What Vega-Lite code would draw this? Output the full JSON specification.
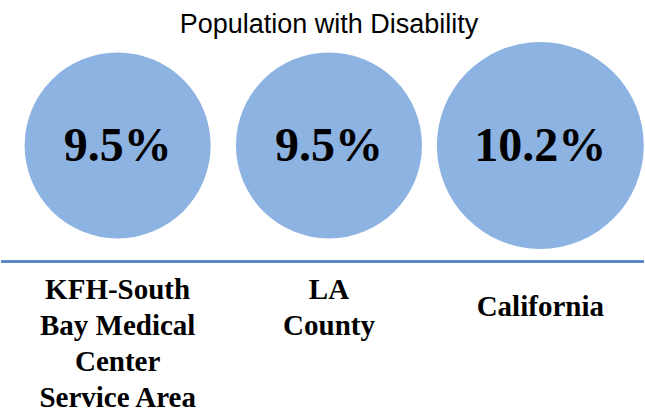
{
  "$schema": "https://vega.github.io/schema/vega-lite/v6.json",
  "width": 645,
  "height": 413,
  "autosize": {"type": "fit", "contains": "padding"},
  "padding": 0,
  "background": "white",
  "config": {"view": {"stroke": null}},
  "data": {"values": [
    {"idx": 1, "area": "KFH-South\nBay Medical\nCenter\nService Area", "value": 9.5, "label": "9.5%"},
    {"idx": 2, "area": "LA\nCounty", "value": 9.5, "label": "9.5%"},
    {"idx": 3, "area": "California", "value": 10.2, "label": "10.2%"}
  ]},
  "resolve": {"scale": {"x": "shared", "y": "shared"}},
  "layer": [
    {
      "mark": {"type": "point", "shape": "circle", "filled": true, "color": "#8db3e2", "opacity": 1},
      "encoding": {
        "x": {"field": "idx", "type": "quantitative", "scale": {"domain": [0.4481, 3.4906], "zero": false, "nice": false}, "axis": null},
        "y": {"datum": 35.3, "type": "quantitative", "scale": {"domain": [0, 100], "reverse": true, "nice": false}, "axis": null},
        "size": {"field": "value", "type": "quantitative", "scale": {"domain": [9.5, 10.2], "range": [34600, 42800]}, "legend": null}
      }
    },
    {
      "mark": {"type": "text", "font": "Liberation Serif", "fontWeight": "bold", "fontSize": 48, "color": "black", "baseline": "middle", "align": "center"},
      "encoding": {
        "x": {"field": "idx", "type": "quantitative", "scale": {"domain": [0.4481, 3.4906], "zero": false, "nice": false}, "axis": null},
        "y": {"datum": 35.6, "type": "quantitative"},
        "text": {"field": "label"}
      }
    },
    {
      "data": {"values": [{"title": "Population with Disability", "pos": 2.0}]},
      "mark": {"type": "text", "font": "Liberation Sans", "fontSize": 27, "color": "black", "baseline": "alphabetic", "align": "center"},
      "encoding": {
        "x": {"field": "pos", "type": "quantitative", "scale": {"domain": [0.4481, 3.4906], "zero": false, "nice": false}, "axis": null},
        "y": {"datum": 8.0, "type": "quantitative"},
        "text": {"field": "title"}
      }
    },
    {
      "mark": {"type": "rule", "color": "#4f81bd", "strokeWidth": 2},
      "encoding": {"y": {"datum": 63.5, "type": "quantitative"}}
    },
    {
      "transform": [{"filter": "datum.idx < 3"}],
      "mark": {"type": "text", "font": "Liberation Serif", "fontWeight": "bold", "fontSize": 29, "color": "black", "baseline": "top", "align": "center", "lineBreak": "\n", "lineHeight": 36},
      "encoding": {
        "x": {"field": "idx", "type": "quantitative", "scale": {"domain": [0.4481, 3.4906], "zero": false, "nice": false}, "axis": null},
        "y": {"datum": 67.0, "type": "quantitative"},
        "text": {"field": "area"}
      }
    },
    {
      "transform": [{"filter": "datum.idx == 3"}],
      "mark": {"type": "text", "font": "Liberation Serif", "fontWeight": "bold", "fontSize": 29, "color": "black", "baseline": "top", "align": "center", "lineBreak": "\n", "lineHeight": 36},
      "encoding": {
        "x": {"field": "idx", "type": "quantitative", "scale": {"domain": [0.4481, 3.4906], "zero": false, "nice": false}, "axis": null},
        "y": {"datum": 71.2, "type": "quantitative"},
        "text": {"field": "area"}
      }
    }
  ]
}
